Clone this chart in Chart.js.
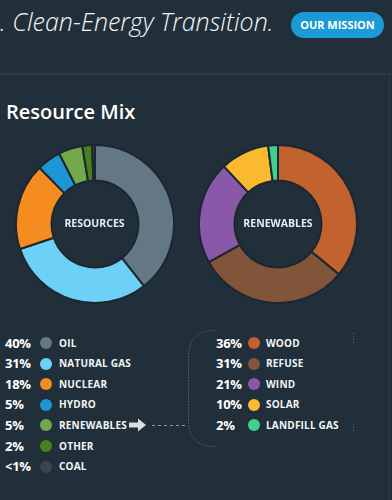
<!DOCTYPE html>
<html>
<head>
<meta charset="utf-8">
<script src="https://cdn.jsdelivr.net/npm/chart.js@4"></script>
<style>
  html, body { margin: 0; padding: 0; }
  body {
    width: 392px; height: 500px; overflow: hidden; position: relative;
    background: #212f3a; font-family: "Open Sans", sans-serif; color: #fff;
  }
  .tagline {
    position: absolute; left: 0; top: 4px; white-space: nowrap;
    font-size: 25px; font-style: italic; font-weight: 300; color: #f4f6f8;
  }
  .btn {
    position: absolute; left: 291px; top: 12px; width: 93px; height: 26px;
    border-radius: 13px; background: #1b9ad6; color: #fff;
    font-size: 11px; font-weight: 700; line-height: 26px; text-align: center;
  }
  .rule { position: absolute; left: 0; top: 73px; width: 392px; height: 2px; background: #2b3a46; }
  .vrule { position: absolute; left: 389px; top: 75px; width: 1px; height: 425px; background: #2e3c48; }
  h2 {
    position: absolute; left: 6px; top: 98px; margin: 0;
    font-size: 20px; font-weight: 600; color: #fff;
  }
  .donut { position: absolute; width: 160px; height: 160px; }
  .center {
    position: absolute; width: 100px; text-align: center;
    font-size: 10.5px; font-weight: 700; color: #e6edf2;
  }
  .legend { position: absolute; }
  .row { position: relative; height: 20.6px; }
  .pct { position: absolute; left: 0; top: 0; line-height: 20.6px; font-size: 13px; font-weight: 700; letter-spacing: -0.3px; }
  .dot { position: absolute; top: 4.3px; width: 12px; height: 12px; border-radius: 50%; }
  .lab { position: absolute; top: 0; line-height: 20.6px; font-size: 10px; font-weight: 700; letter-spacing: 0.2px; color: #f2f5f7; white-space: nowrap; }
  svg.deco { position: absolute; left: 0; top: 0; }
</style>
</head>
<body>
<div class="tagline">. Clean-Energy Transition.</div>
<div class="btn">OUR MISSION</div>
<div class="rule"></div>
<div class="vrule"></div>
<h2>Resource Mix</h2>

<canvas id="resources" class="donut" style="left:14.5px; top:144px;"></canvas>
<canvas id="renewables" class="donut" style="left:198px; top:144px;"></canvas>
<div class="center" style="left:44.5px; top:216px;">RESOURCES</div>
<div class="center" style="left:228px; top:216px;">RENEWABLES</div>

<div id="legend1" class="legend" style="left:5px; top:332.7px;"></div>
<div id="legend2" class="legend" style="left:216px; top:332.7px;"></div>

<svg class="deco" width="392" height="500">
  <path d="M129 422.5 h9 v-4 l8 6.5 l-8 6.5 v-4 h-9 z" fill="#d9dee2"/>
  <line x1="152" y1="425.5" x2="187" y2="425.5" stroke="#8d98a1" stroke-width="1" stroke-dasharray="3 3"/>
  <path d="M215 330.5 Q188.5 330.5 188.5 357 L188.5 420 Q188.5 446.5 215 446.5" fill="none" stroke="#66737d" stroke-width="1" stroke-dasharray="1.2 1.8"/>
  <line x1="353.5" y1="333" x2="353.5" y2="344" stroke="#55626c" stroke-width="1" stroke-dasharray="1.2 1.8"/>
  <line x1="353.5" y1="424" x2="353.5" y2="433" stroke="#55626c" stroke-width="1" stroke-dasharray="1.2 1.8"/>
</svg>

<script>
const resourceLabels = ['OIL', 'NATURAL GAS', 'NUCLEAR', 'HYDRO', 'RENEWABLES', 'OTHER', 'COAL'];
const resourceValues = [40, 31, 18, 5, 5, 2, 0.6];
const resourceColors = ['#637884', '#6dd0f7', '#f68b1f', '#1e95d4', '#72a94a', '#4a7f1e', '#3b454e'];

const renewableLabels = ['WOOD', 'REFUSE', 'WIND', 'SOLAR', 'LANDFILL GAS'];
const renewableValues = [36, 31, 21, 10, 2];
const renewableColors = ['#c2622d', '#80553a', '#8a58a8', '#fbb930', '#3fd08f'];

function pctText(v) {
  return v < 1 ? '<1%' : v + '%';
}

function makeDonut(id, labels, values, colors) {
  const ctx = document.getElementById(id).getContext('2d');
  return new Chart(ctx, {
    type: 'doughnut',
    data: {
      labels: labels,
      datasets: [{
        data: values,
        backgroundColor: colors,
        borderColor: '#1c2731',
        borderWidth: 2
      }]
    },
    options: {
      responsive: false,
      animation: false,
      cutout: '55%',
      layout: { padding: 0 },
      plugins: { legend: { display: false }, tooltip: { enabled: false } }
    }
  });
}

function makeLegend(id, labels, values, colors, dotX, labX) {
  const box = document.getElementById(id);
  labels.forEach((label, i) => {
    const row = document.createElement('div');
    row.className = 'row';
    row.innerHTML =
      '<span class="pct">' + pctText(values[i]) + '</span>' +
      '<span class="dot" style="left:' + dotX + 'px;background:' + colors[i] + '"></span>' +
      '<span class="lab" style="left:' + labX + 'px">' + label + '</span>';
    box.appendChild(row);
  });
}

document.getElementById('resources').width = 160;
document.getElementById('resources').height = 160;
document.getElementById('renewables').width = 160;
document.getElementById('renewables').height = 160;

makeDonut('resources', resourceLabels, resourceValues, resourceColors);
makeDonut('renewables', renewableLabels, renewableValues, renewableColors);
makeLegend('legend1', resourceLabels, resourceValues, resourceColors, 34.7, 54);
makeLegend('legend2', renewableLabels, renewableValues, renewableColors, 32, 50);
</script>
</body>
</html>
